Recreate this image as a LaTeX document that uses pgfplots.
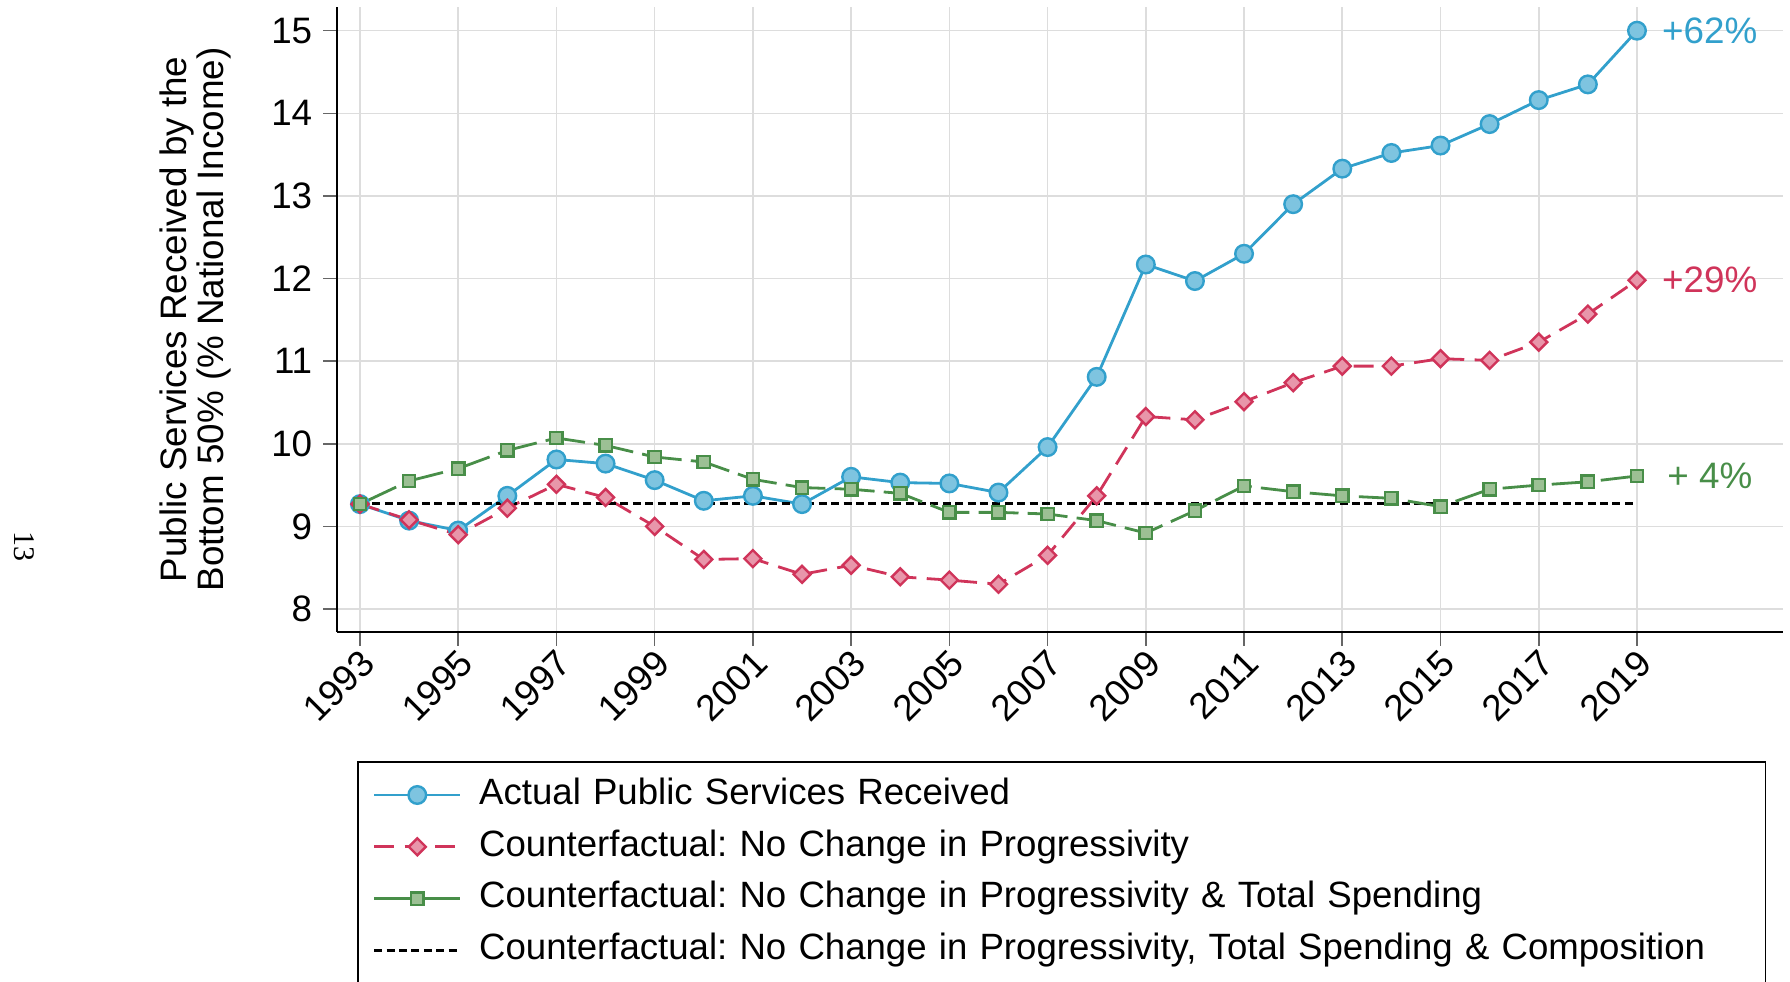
\documentclass[border=0pt]{standalone}
\usepackage{fontspec}
\setmainfont{Liberation Sans}
\newfontfamily\pagefont{Liberation Serif}
\usepackage{pgfplots}
\usepackage{pgfplotstable}
\pgfplotsset{compat=1.18}
\frenchspacing

\definecolor{cblue}{RGB}{50,160,204}
\definecolor{cbluef}{RGB}{126,196,224}
\definecolor{cred}{RGB}{208,52,90}
\definecolor{credf}{RGB}{232,150,170}
\definecolor{cgreen}{RGB}{72,142,72}
\definecolor{cgreenf}{RGB}{156,192,148}
\definecolor{gridc}{RGB}{221,221,221}

% public services received by bottom 50%, % of national income
\pgfplotstableread{
year actual noprog nototal
1993 9.27  9.27  9.27
1994 9.07  9.08  9.55
1995 8.95  8.90  9.70
1996 9.37  9.22  9.92
1997 9.81  9.51  10.07
1998 9.76  9.35  9.98
1999 9.56  9.00  9.84
2000 9.31  8.60  9.78
2001 9.37  8.61  9.57
2002 9.27  8.42  9.47
2003 9.60  8.53  9.45
2004 9.53  8.39  9.40
2005 9.52  8.35  9.17
2006 9.41  8.30  9.17
2007 9.96  8.65  9.15
2008 10.81 9.37  9.07
2009 12.17 10.33 8.92
2010 11.97 10.29 9.19
2011 12.30 10.51 9.49
2012 12.90 10.74 9.42
2013 13.33 10.94 9.37
2014 13.52 10.94 9.34
2015 13.61 11.03 9.24
2016 13.87 11.01 9.45
2017 14.16 11.23 9.50
2018 14.35 11.57 9.54
2019 15.00 11.98 9.61
}\data

\newcommand\fs{\fontsize{9.2}{9.2}\selectfont}

\begin{document}
\begin{tikzpicture}
\path[use as bounding box] (-84.25pt,-87.5pt) rectangle (363.25pt,158pt);
\begin{axis}[
  at={(0pt,0pt)}, anchor=south west,
  scale only axis, width=361.5pt, height=156.25pt,
  xmin=1992.532, xmax=2021.973, ymin=7.722, ymax=15.287,
  axis x line*=bottom, axis y line*=left,
  axis line style={black, line width=0.45pt, -},
  xtick={1993,1995,...,2019}, ytick={8,9,...,15},
  grid=major, major grid style={gridc, line width=0.4pt},
  tick align=outside, major tick length=3.5pt,
  tick style={black!60, line width=0.4pt},
  /pgf/number format/assume math mode=true,
  /pgf/number format/1000 sep={},
  every tick label/.append style={font=\fs},
  xticklabel style={rotate=45, anchor=east, inner sep=0pt, xshift=-0.3pt, yshift=-3.3pt},
  yticklabel style={anchor=east, inner sep=0pt, xshift=-2.5pt},
  ylabel={Public Services Received by the\\Bottom 50\% (\% National Income)},
  ylabel style={align=center, font=\fontsize{9.2}{9.125}\selectfont,
    at={(axis description cs:-0.0980,0.5)}, anchor=center},
  legend image code/.code={\draw[mark repeat=2,mark phase=2] plot coordinates {(0pt,0pt) (10.75pt,0pt) (21.5pt,0pt)};},
  legend style={at={(0.01383,-0.2072)}, anchor=north west,
    draw=black, line width=0.4pt, fill=white,
    inner xsep=3.75pt, inner ysep=1.7pt, font=\fontsize{9.15}{9.15}\selectfont,
    cells={anchor=west},
    nodes={inner xsep=0pt, inner ysep=2.2pt, text height=6.6pt, text depth=1.95pt, text width=317.8pt},
    row sep=0pt,
    /tikz/every odd column/.style={column sep=4.35pt}},
]
\addplot[cblue, line width=0.7pt, mark=*, mark size=2.2pt,
  mark options={fill=cbluef, draw=cblue, line width=0.6pt, solid}]
  table[x=year, y=actual] {\data};
\addlegendentry{Actual Public Services Received}

\addplot[cred, line width=0.7pt, dash pattern=on 5pt off 2.6pt, mark=square*, mark size=1.5pt,
  mark options={fill=credf, draw=cred, rotate=45, line width=0.6pt, solid}]
  table[x=year, y=noprog] {\data};
\addlegendentry{Counterfactual: No Change in Progressivity}

\addplot[black, line width=0.75pt, dash pattern=on 2pt off 1.1pt, forget plot]
  coordinates {(1993,9.28) (2019,9.28)};

\addplot[cgreen, line width=0.7pt, dash pattern=on 10pt off 2.3pt, mark=square*, mark size=1.55pt,
  mark options={fill=cgreenf, draw=cgreen, line width=0.6pt, solid}]
  table[x=year, y=nototal] {\data};
\addlegendentry{Counterfactual: No Change in Progressivity \& Total Spending}

\addlegendimage{black, line width=0.75pt, dash pattern=on 2pt off 1.1pt}
\addlegendentry{Counterfactual: No Change in Progressivity, Total Spending \& Composition}

\node[anchor=west, inner sep=0pt, text=cblue, font=\fs, xshift=6.1pt] at (axis cs:2019,15.0) {+62\%};
\node[anchor=west, inner sep=0pt, text=cred, font=\fs, xshift=6.1pt] at (axis cs:2019,11.98) {+29\%};
\node[anchor=west, inner sep=0pt, text=cgreen, font=\fs, xshift=7.4pt] at (axis cs:2019,9.61) {+ 4\%};
\end{axis}
\node[rotate=-90, inner sep=0pt, font=\pagefont\fontsize{7.5}{7.5}\selectfont] at (-78.2pt,21.25pt) {13};
\end{tikzpicture}
\end{document}
